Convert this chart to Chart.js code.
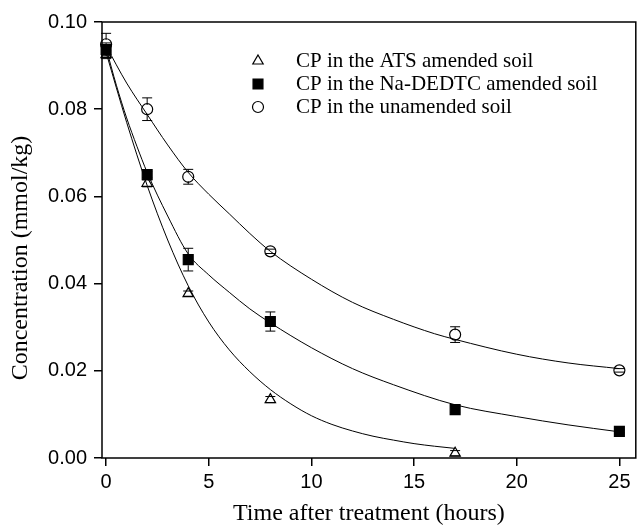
<!DOCTYPE html>
<html>
<head>
<meta charset="utf-8">
<script src="https://cdn.jsdelivr.net/npm/chart.js@4.4.1/dist/chart.umd.min.js"></script>
<style>
  html, body { margin: 0; padding: 0; background: #fff; }
  #wrap { width: 644px; height: 526px; }
</style>
</head>
<body>
<div id="wrap"><canvas id="decayChart"></canvas></div>
<script>
  // measured points (hours, mmol/kg) with error bar half-widths
  const atsTimes = [0, 2, 4, 8, 17];
  const atsValues = [0.0925, 0.0630, 0.0377, 0.0134, 0.0011];
  const atsErrors = [0.0009, 0.0008, 0.0006, 0.0007, 0.0006];

  const naTimes = [0, 2, 4, 8, 17, 25];
  const naValues = [0.0937, 0.0650, 0.0455, 0.0313, 0.0111, 0.0061];
  const naErrors = [0.0015, 0.0007, 0.0026, 0.0022, 0.0006, 0.0003];

  const unTimes = [0, 2, 4, 8, 17, 25];
  const unValues = [0.0949, 0.0800, 0.0645, 0.0474, 0.0283, 0.0201];
  const unErrors = [0.0025, 0.0026, 0.0017, 0.0005, 0.0018, 0.0004];

  // fitted curves
  const atsFitX = [0, 1, 2, 3, 4, 5, 6, 7, 8, 9, 10, 11, 12, 13, 14, 15, 16, 17];
  const atsFitY = [0.0930, 0.0770, 0.0625, 0.0500, 0.0395, 0.0312, 0.0248, 0.0198, 0.0157, 0.0124, 0.0097,
                   0.0077, 0.0062, 0.0050, 0.0041, 0.0033, 0.0027, 0.0022];

  const naFitX = [0, 0.5, 1, 1.5, 2, 3, 4, 5, 6, 7, 8, 10, 12, 14, 17, 20, 22.5, 25];
  const naFitY = [0.0940, 0.0855, 0.0780, 0.0715, 0.0655, 0.0555, 0.0468, 0.0420, 0.0380, 0.0342, 0.0310,
                  0.0253, 0.0205, 0.0168, 0.0122, 0.0095, 0.0076, 0.0060];

  const unFitX = [0, 1, 2, 3, 4, 5, 6, 7, 8, 10, 12, 14, 16, 17, 20, 22.5, 25];
  const unFitY = [0.0945, 0.0860, 0.0788, 0.0718, 0.0655, 0.0605, 0.0560, 0.0515, 0.0474, 0.0410, 0.0357,
                  0.0318, 0.0285, 0.0272, 0.0238, 0.0218, 0.0205];

  const seriesLabels = ['CP in the ATS amended soil', 'CP in the Na-DEDTC amended soil', 'CP in the unamended soil'];
  const xTicks = [0, 5, 10, 15, 20, 25];
  const yTicks = [0, 0.02, 0.04, 0.06, 0.08, 0.10];
  const xTitle = 'Time after treatment (hours)';
  const yTitle = 'Concentration (mmol/kg)';

  const serif = '"Liberation Serif", "Times New Roman", serif';
  const sans = '"Liberation Sans", Arial, sans-serif';

  function pts(xs, ys) {
    return xs.map((x, i) => ({ x: x, y: ys[i] }));
  }

  function markerSet(label, xs, ys, errs, style, radius, fill) {
    return {
      label: label,
      data: pts(xs, ys),
      errors: errs,
      showLine: false,
      pointStyle: style,
      pointRadius: radius,
      pointHoverRadius: radius,
      pointBorderWidth: 1.2,
      borderColor: '#000',
      backgroundColor: fill,
      clip: false
    };
  }

  function curveSet(xs, ys) {
    return {
      label: 'fit',
      data: pts(xs, ys),
      showLine: true,
      pointRadius: 0,
      borderColor: '#000',
      borderWidth: 1,
      cubicInterpolationMode: 'monotone',
      fill: false
    };
  }

  // error bars drawn on top of the symbols
  const errorBars = {
    id: 'errorBars',
    afterDatasetsDraw(chart) {
      const ctx = chart.ctx;
      const xs = chart.scales.x, ys = chart.scales.y;
      ctx.save();
      ctx.strokeStyle = '#000';
      ctx.lineWidth = 1;
      chart.data.datasets.forEach(ds => {
        if (!ds.errors) return;
        const r = ds.pointRadius * 0.8;
        ds.data.forEach((p, i) => {
          const px = xs.getPixelForValue(p.x);
          const py = ys.getPixelForValue(p.y);
          const top = ys.getPixelForValue(p.y + ds.errors[i]);
          const bot = ys.getPixelForValue(p.y - ds.errors[i]);
          ctx.beginPath();
          if (py - top > r) { ctx.moveTo(px, py - r); ctx.lineTo(px, top); }
          if (bot - py > r) { ctx.moveTo(px, py + r); ctx.lineTo(px, bot); }
          ctx.moveTo(px - 5, top); ctx.lineTo(px + 5, top);
          ctx.moveTo(px - 5, bot); ctx.lineTo(px + 5, bot);
          ctx.stroke();
        });
      });
      ctx.restore();
    }
  };

  // frame, axis titles and the legend inside the plot
  const frameAndText = {
    id: 'frameAndText',
    afterDraw(chart) {
      const ctx = chart.ctx;
      const a = chart.chartArea;
      ctx.save();
      ctx.strokeStyle = '#000';
      ctx.lineWidth = 1.5;
      ctx.strokeRect(a.left, a.top, a.right - a.left, a.bottom - a.top);

      ctx.fillStyle = '#000';
      ctx.font = '24px ' + serif;
      ctx.textAlign = 'center';
      ctx.textBaseline = 'middle';
      ctx.fillText(xTitle, (a.left + a.right) / 2, 514);
      ctx.save();
      ctx.translate(21, 258);
      ctx.rotate(-Math.PI / 2);
      ctx.fillText(yTitle, 0, 0);
      ctx.restore();

      ctx.textAlign = 'left';
      ctx.font = '21px ' + serif;
      const rows = [61, 84, 107];
      chart.data.datasets.filter(ds => ds.errors).forEach((ds, i) => {
        ctx.fillStyle = ds.backgroundColor;
        ctx.strokeStyle = '#000';
        ctx.lineWidth = 1.2;
        Chart.helpers.drawPoint(ctx, {
          pointStyle: ds.pointStyle,
          radius: ds.pointRadius,
          borderWidth: 1.2
        }, 258, rows[i]);
        ctx.fillStyle = '#000';
        ctx.fillText(ds.label, 296, rows[i]);
      });
      ctx.restore();
    }
  };

  Chart.defaults.color = '#000';

  const ctx = document.getElementById('decayChart').getContext('2d');
  const decayChart = new Chart(ctx, {
    type: 'scatter',
    data: {
      datasets: [
        markerSet(seriesLabels[0], atsTimes, atsValues, atsErrors, 'triangle', 6, 'rgba(0,0,0,0)'),
        markerSet(seriesLabels[1], naTimes, naValues, naErrors, 'rect', 7, '#000'),
        markerSet(seriesLabels[2], unTimes, unValues, unErrors, 'circle', 5.5, 'rgba(0,0,0,0)'),
        curveSet(atsFitX, atsFitY),
        curveSet(naFitX, naFitY),
        curveSet(unFitX, unFitY)
      ]
    },
    options: {
      responsive: true,
      maintainAspectRatio: false,
      animation: false,
      layout: { padding: { top: 22, right: 1, left: 0, bottom: 0 } },
      plugins: {
        legend: { display: false },
        tooltip: { enabled: false }
      },
      scales: {
        x: {
          type: 'linear',
          min: -0.2,
          max: 25.8,
          afterBuildTicks: s => { s.ticks = xTicks.map(v => ({ value: v })); },
          afterFit: s => { s.height = 68; },
          grid: { display: true, drawOnChartArea: false, drawTicks: true, tickLength: 8, color: '#000', lineWidth: 1.5 },
          border: { display: false },
          ticks: { font: { family: sans, size: 20 }, padding: 4, maxRotation: 0 }
        },
        y: {
          type: 'linear',
          min: 0,
          max: 0.10,
          afterBuildTicks: s => { s.ticks = yTicks.map(v => ({ value: v })); },
          afterFit: s => { s.width = 102; },
          grid: { display: true, drawOnChartArea: false, drawTicks: true, tickLength: 8, color: '#000', lineWidth: 1.5 },
          border: { display: false },
          ticks: {
            font: { family: sans, size: 20 },
            padding: 7,
            callback: v => v.toFixed(2)
          }
        }
      }
    },
    plugins: [errorBars, frameAndText]
  });
</script>
</body>
</html>
